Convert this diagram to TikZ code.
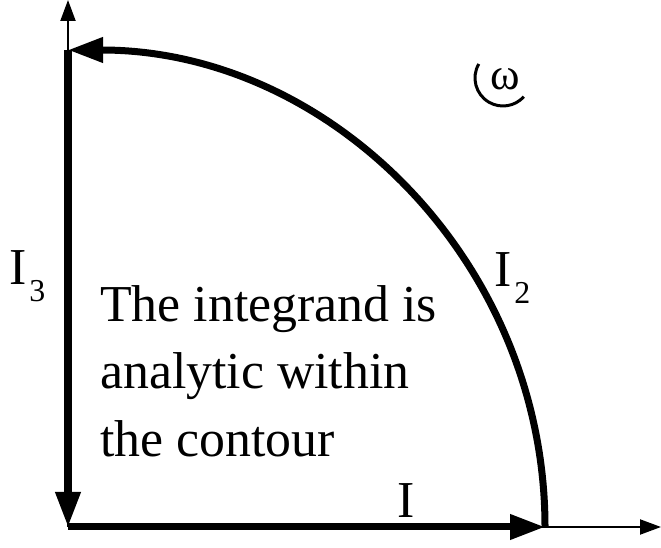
\documentclass[tikz,border=0pt]{standalone}
\usepackage{fontspec}
\setmainfont{Liberation Serif}
\usepackage{tikz}
\usetikzlibrary{arrows.meta}
\tikzset{
    axis line/.style={
        line width=2bp, -{Triangle[length=21bp,width=15bp]}
    },
    contour/.style={
        line width=7bp, -{Triangle[length=35bp,width=24bp]}
    },
    big label/.style={
        inner sep=0pt, font=\fontsize{52}{68}\selectfont
    },
}
\newcommand{\sublabel}[1]{\kern3bp{\fontsize{32}{32}\selectfont\raisebox{-17bp}{#1}}}

\begin{document}
\begin{tikzpicture}[x=1bp,y=1bp]
    \useasboundingbox (-68,-21) rectangle (593,527);

    \coordinate (O) at (0,0);
    \coordinate (xtip) at (593,0);
    \coordinate (ytip) at (0,527);
    \coordinate (A) at (477,0);
    \coordinate (B) at (0,477);

    % Axes
    \draw[axis line] (O) -- (xtip);
    \draw[axis line] (O) -- (ytip);

    % Contour
    \draw[contour] (O) -- (A);
    \draw[contour] (A) arc[start angle=0, end angle=90, radius=477];
    \draw[contour] (B) -- (O);

    % Labels
    \node[big label, anchor=base west] (I1) at (329,9) {I};
    \node[big label, anchor=base west] (I2) at (426,240) {I\sublabel{2}};
    \node[big label, anchor=base west] (I3) at (-59,242) {I\sublabel{3}};

    \node[big label, anchor=north west, align=left] (txt) at (32,242)
        {The integrand is\\analytic within\\the contour};

    % Orientation mark
    \node[inner sep=0pt, font=\fontsize{45}{45}\selectfont] (omega) at (437,448) {ω};
    \coordinate (wc) at ([shift={(-2,1)}]omega.center);
    \draw[line width=3bp] ([shift={(150:28)}]wc) arc[start angle=150, end angle=318, radius=28];
\end{tikzpicture}
\end{document}
